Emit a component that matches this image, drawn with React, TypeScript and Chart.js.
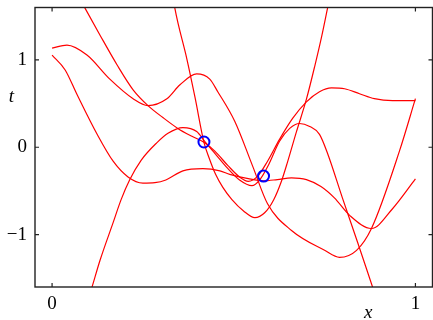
import { useEffect, useRef } from 'react';
import { Chart, registerables } from 'chart.js';

Chart.register(...registerables);

// Observed data points (x, t)
const obsX = [0.418, 0.582];
const obsT = [0.06, -0.33];

// Posterior sample curves, [x, y] pairs
const sampleA: [number, number][] = [
  [0, 1.135], [0.041, 1.17], [0.096, 1.056], [0.159, 0.78], [0.223, 0.556], [0.264, 0.477],
  [0.316, 0.556], [0.352, 0.715], [0.398, 0.84], [0.434, 0.78], [0.456, 0.636], [0.503, 0.295],
  [0.552, -0.216], [0.593, -0.647], [0.659, -0.953], [0.75, -1.18], [0.791, -1.26], [0.838, -1.18],
  [0.879, -0.93], [0.956, -0.045], [1.0, 0.556],
];
const sampleB: [number, number][] = [
  [0, 1.055], [0.036, 0.885], [0.069, 0.6], [0.124, 0.148], [0.168, -0.16], [0.209, -0.34],
  [0.25, -0.41], [0.283, -0.405], [0.313, -0.375], [0.36, -0.27], [0.415, -0.245], [0.462, -0.27],
  [0.489, -0.31], [0.54, -0.36], [0.582, -0.385], [0.62, -0.37], [0.659, -0.35], [0.70, -0.37],
  [0.74, -0.45], [0.777, -0.58], [0.819, -0.78], [0.879, -0.93], [0.937, -0.704], [1.0, -0.363],
];
const sampleC: [number, number][] = [
  [0.07, 1.75], [0.091, 1.59], [0.132, 1.283], [0.179, 0.942], [0.223, 0.658], [0.264, 0.477],
  [0.305, 0.34], [0.346, 0.216], [0.385, 0.125], [0.418, 0.057], [0.448, -0.045], [0.484, -0.21],
  [0.516, -0.34], [0.54, -0.39], [0.566, -0.33], [0.593, -0.16], [0.626, 0.09], [0.662, 0.33],
  [0.70, 0.52], [0.736, 0.636], [0.769, 0.68], [0.805, 0.67], [0.846, 0.613], [0.887, 0.556],
  [0.937, 0.533], [1.0, 0.533],
];
const sampleD: [number, number][] = [
  [0.332, 1.75], [0.338, 1.589], [0.371, 1.01], [0.393, 0.579], [0.418, 0.057], [0.432, -0.12],
  [0.45, -0.31], [0.47, -0.46], [0.495, -0.6], [0.527, -0.73], [0.558, -0.806], [0.585, -0.75],
  [0.61, -0.6], [0.632, -0.38], [0.648, -0.17], [0.672, 0.17], [0.70, 0.55], [0.723, 0.93],
  [0.742, 1.27], [0.758, 1.59], [0.766, 1.75],
];
const sampleE: [number, number][] = [
  [0.099, -1.75], [0.11, -1.6], [0.132, -1.294], [0.168, -0.863], [0.19, -0.6], [0.214, -0.37],
  [0.245, -0.15], [0.288, 0.05], [0.319, 0.16], [0.36, 0.225], [0.398, 0.18], [0.42, 0.068],
  [0.448, -0.07], [0.484, -0.245], [0.516, -0.375], [0.55, -0.44], [0.572, -0.37], [0.596, -0.2],
  [0.626, 0.068], [0.654, 0.216], [0.681, 0.272], [0.709, 0.238], [0.736, 0.148], [0.758, -0.068],
  [0.799, -0.579], [0.841, -1.09], [0.882, -1.6], [0.895, -1.76],
];
const samples = [sampleA, sampleB, sampleC, sampleD, sampleE];

// Axis settings
const xTicks = [0, 1];
const yTicks = [-1, 0, 1];
const xMin = -0.047;
const xMax = 1.047;
const yMin = -1.6;
const yMax = 1.6;
const xTitle = 'x';
const yTitle = 't';

const serif = "'Liberation Serif', 'Times New Roman', serif";
Chart.defaults.font.family = serif;

const framePlugin = {
  id: 'frameTicks',
  afterDraw(chart: any) {
    const { ctx, chartArea, scales } = chart;
    const { left, top, right, bottom } = chartArea;
    const xs = scales.x;
    const ys = scales.y;
    ctx.save();
    ctx.strokeStyle = '#222';
    ctx.lineWidth = 1.4;
    ctx.strokeRect(left, top, right - left, bottom - top);
    ctx.lineWidth = 1.2;
    ctx.beginPath();
    const tl = 4;
    for (const v of xTicks) {
      const px = xs.getPixelForValue(v);
      ctx.moveTo(px, bottom);
      ctx.lineTo(px, bottom - tl);
      ctx.moveTo(px, top);
      ctx.lineTo(px, top + tl);
    }
    for (const v of yTicks) {
      const py = ys.getPixelForValue(v);
      ctx.moveTo(left, py);
      ctx.lineTo(left + tl, py);
      ctx.moveTo(right, py);
      ctx.lineTo(right - tl, py);
    }
    ctx.stroke();
    ctx.fillStyle = '#000';
    ctx.font = `italic 19px ${serif}`;
    ctx.textAlign = 'center';
    ctx.textBaseline = 'alphabetic';
    ctx.fillText(yTitle, 11.5, ys.getPixelForValue(0.52));
    ctx.fillText(xTitle, xs.getPixelForValue(0.87), 318);
    ctx.restore();
  },
};

export default function App() {
  const ref = useRef<HTMLCanvasElement | null>(null);

  useEffect(() => {
    document.documentElement.style.overflow = 'hidden';
    document.body.style.overflow = 'hidden';
    const canvas = ref.current;
    if (!canvas) return;
    const datasets: any[] = [
      {
        type: 'scatter',
        data: obsX.map((x, i) => ({ x, y: obsT[i] })),
        pointRadius: 5.5,
        pointBorderWidth: 2,
        pointBorderColor: '#0000ff',
        pointBackgroundColor: 'rgba(0,0,0,0)',
        showLine: false,
        order: 0,
      },
      ...samples.map((s) => ({
        type: 'line',
        data: s.map(([x, y]) => ({ x, y })),
        borderColor: '#ff0000',
        borderWidth: 1.2,
        pointRadius: 0,
        fill: false,
        cubicInterpolationMode: 'monotone',
        order: 1,
      })),
    ];
    const chart = new Chart(canvas, {
      type: 'line',
      data: { datasets },
      options: {
        responsive: false,
        animation: false,
        events: [],
        layout: { padding: { top: 5, right: 7, left: 0, bottom: 0 } },
        plugins: { legend: { display: false }, tooltip: { enabled: false } },
        scales: {
          x: {
            type: 'linear',
            min: xMin,
            max: xMax,
            afterFit: (s: any) => {
              s.height = 33;
              s.paddingLeft = 0;
              s.paddingRight = 0;
            },
            afterBuildTicks: (s: any) => {
              s.ticks = xTicks.map((v) => ({ value: v }));
            },
            grid: { display: false, drawTicks: false },
            border: { display: false },
            ticks: {
              font: { family: serif, size: 19 },
              color: '#000',
              padding: 6,
              maxRotation: 0,
              autoSkip: false,
              callback: (v: any) => String(v),
            },
          },
          y: {
            type: 'linear',
            min: yMin,
            max: yMax,
            afterFit: (s: any) => {
              s.width = 35;
              s.paddingTop = 0;
              s.paddingBottom = 0;
            },
            afterBuildTicks: (s: any) => {
              s.ticks = yTicks.map((v) => ({ value: v }));
            },
            grid: { display: false, drawTicks: false },
            border: { display: false },
            ticks: {
              font: { family: serif, size: 19 },
              color: '#000',
              padding: 8,
              autoSkip: false,
              callback: (v: any) => (Number(v) < 0 ? '\u2212' + Math.abs(Number(v)) : String(v)),
            },
          },
        },
      } as any,
      plugins: [framePlugin],
    });
    return () => chart.destroy();
  }, []);

  return (
    <div style={{ position: 'fixed', left: 0, top: 0, width: 440, height: 320, background: '#fff' }}>
      <canvas ref={ref} width={440} height={320} style={{ width: 440, height: 320, display: 'block' }} />
    </div>
  );
}
